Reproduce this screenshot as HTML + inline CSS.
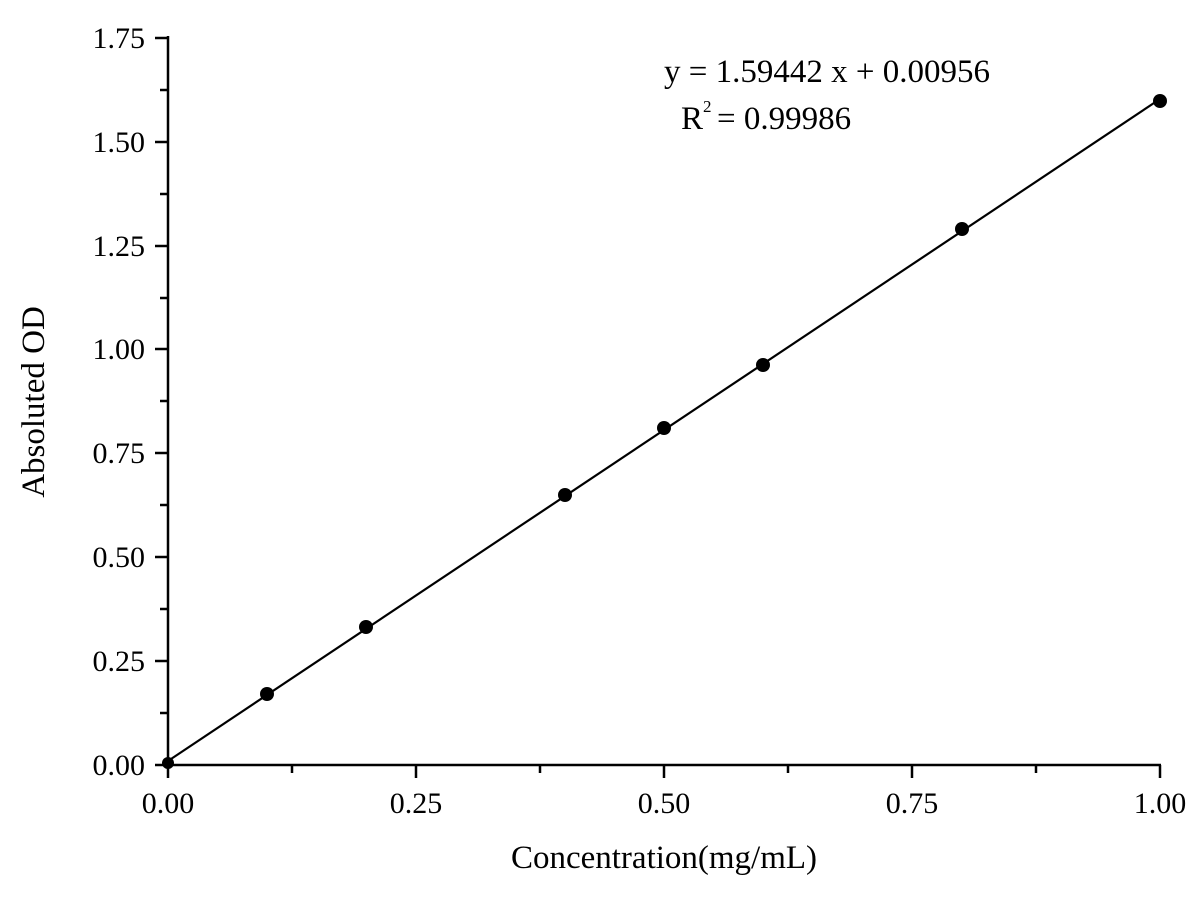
<!DOCTYPE html>
<html><head><style>body{margin:0;background:#fff}</style></head><body>
<svg width="1200" height="900" xmlns="http://www.w3.org/2000/svg" font-family="Liberation Serif, serif">
<g stroke="#000" stroke-width="2.5" fill="none">
<line x1="168" y1="36" x2="168" y2="778"/>
<line x1="155" y1="765" x2="1161" y2="765"/>
<line x1="416" y1="765" x2="416" y2="778"/>
<line x1="664" y1="765" x2="664" y2="778"/>
<line x1="912" y1="765" x2="912" y2="778"/>
<line x1="1160" y1="765" x2="1160" y2="778"/>
<line x1="292" y1="765" x2="292" y2="773"/>
<line x1="540" y1="765" x2="540" y2="773"/>
<line x1="788" y1="765" x2="788" y2="773"/>
<line x1="1036" y1="765" x2="1036" y2="773"/>
<line x1="155" y1="661" x2="168" y2="661"/>
<line x1="155" y1="557" x2="168" y2="557"/>
<line x1="155" y1="453" x2="168" y2="453"/>
<line x1="155" y1="349" x2="168" y2="349"/>
<line x1="155" y1="246" x2="168" y2="246"/>
<line x1="155" y1="142" x2="168" y2="142"/>
<line x1="155" y1="38" x2="168" y2="38"/>
<line x1="160" y1="713" x2="168" y2="713"/>
<line x1="160" y1="609" x2="168" y2="609"/>
<line x1="160" y1="505" x2="168" y2="505"/>
<line x1="160" y1="401" x2="168" y2="401"/>
<line x1="160" y1="298" x2="168" y2="298"/>
<line x1="160" y1="194" x2="168" y2="194"/>
<line x1="160" y1="90" x2="168" y2="90"/>
<line x1="168" y1="761" x2="1160" y2="99" stroke-width="2.2"/>
</g>
<g fill="#000">
<circle cx="168" cy="763" r="6"/>
<circle cx="267" cy="694" r="7"/>
<circle cx="366" cy="627" r="7"/>
<circle cx="565" cy="495" r="7"/>
<circle cx="664" cy="428" r="7"/>
<circle cx="763" cy="365" r="7"/>
<circle cx="962" cy="229" r="7"/>
<circle cx="1160" cy="101" r="7"/>
</g>
<g font-size="30" text-anchor="end">
<text x="145" y="775">0.00</text>
<text x="145" y="671">0.25</text>
<text x="145" y="567">0.50</text>
<text x="145" y="463">0.75</text>
<text x="145" y="359">1.00</text>
<text x="145" y="256">1.25</text>
<text x="145" y="152">1.50</text>
<text x="145" y="48">1.75</text>
</g>
<g font-size="30" text-anchor="middle">
<text x="168" y="813">0.00</text>
<text x="416" y="813">0.25</text>
<text x="664" y="813">0.50</text>
<text x="912" y="813">0.75</text>
<text x="1160" y="813">1.00</text>
</g>
<text x="664" y="868" font-size="33" text-anchor="middle">Concentration(mg/mL)</text>
<text transform="translate(44,402) rotate(-90)" font-size="33" text-anchor="middle">Absoluted OD</text>
<text x="664" y="82" font-size="33">y = 1.59442 x + 0.00956</text>
<text x="681" y="129" font-size="33">R</text>
<text x="703" y="112" font-size="17">2</text>
<text x="717" y="129" font-size="33">= 0.99986</text>
</svg>
</body></html>
